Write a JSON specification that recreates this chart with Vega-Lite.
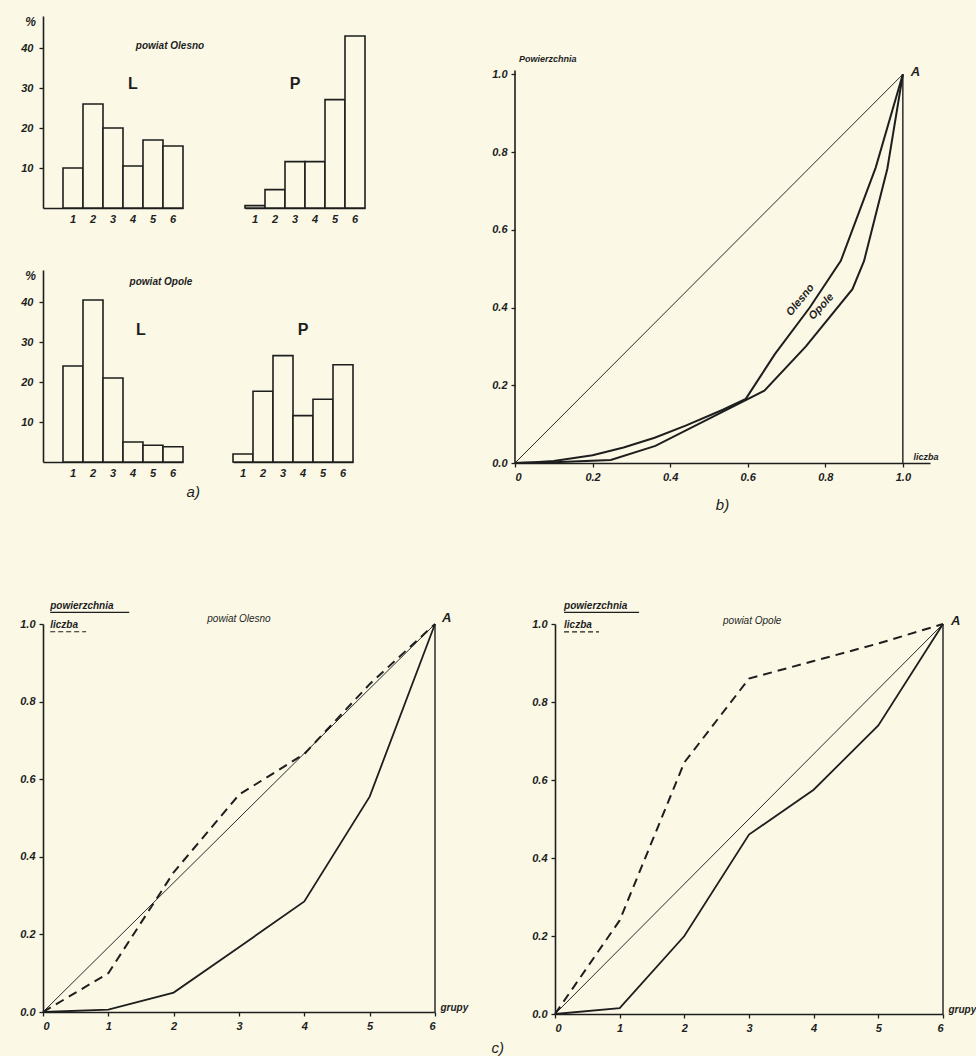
{
  "$schema": "https://vega.github.io/schema/vega-lite/v6.json",
  "padding": {"left": 19, "top": 15, "right": 0, "bottom": 0},
  "background": "#fbf9e6",
  "datasets": {
    "hist": [
      {"powiat": "Olesno", "typ": "L", "grupa": 1, "procent": 10},
      {"powiat": "Olesno", "typ": "L", "grupa": 2, "procent": 26},
      {"powiat": "Olesno", "typ": "L", "grupa": 3, "procent": 20},
      {"powiat": "Olesno", "typ": "L", "grupa": 4, "procent": 10.5},
      {"powiat": "Olesno", "typ": "L", "grupa": 5, "procent": 17},
      {"powiat": "Olesno", "typ": "L", "grupa": 6, "procent": 15.5},
      {"powiat": "Olesno", "typ": "P", "grupa": 1, "procent": 0.6},
      {"powiat": "Olesno", "typ": "P", "grupa": 2, "procent": 4.6},
      {"powiat": "Olesno", "typ": "P", "grupa": 3, "procent": 11.6},
      {"powiat": "Olesno", "typ": "P", "grupa": 4, "procent": 11.6},
      {"powiat": "Olesno", "typ": "P", "grupa": 5, "procent": 27.1},
      {"powiat": "Olesno", "typ": "P", "grupa": 6, "procent": 43},
      {"powiat": "Opole", "typ": "L", "grupa": 1, "procent": 24},
      {"powiat": "Opole", "typ": "L", "grupa": 2, "procent": 40.5},
      {"powiat": "Opole", "typ": "L", "grupa": 3, "procent": 21},
      {"powiat": "Opole", "typ": "L", "grupa": 4, "procent": 5},
      {"powiat": "Opole", "typ": "L", "grupa": 5, "procent": 4.2},
      {"powiat": "Opole", "typ": "L", "grupa": 6, "procent": 3.8},
      {"powiat": "Opole", "typ": "P", "grupa": 1, "procent": 2},
      {"powiat": "Opole", "typ": "P", "grupa": 2, "procent": 17.7},
      {"powiat": "Opole", "typ": "P", "grupa": 3, "procent": 26.6},
      {"powiat": "Opole", "typ": "P", "grupa": 4, "procent": 11.6},
      {"powiat": "Opole", "typ": "P", "grupa": 5, "procent": 15.7},
      {"powiat": "Opole", "typ": "P", "grupa": 6, "procent": 24.3}
    ],
    "lorenz": [
      {"powiat": "Olesno", "liczba": 0, "powierzchnia": 0},
      {"powiat": "Olesno", "liczba": 0.05, "powierzchnia": 0.002},
      {"powiat": "Olesno", "liczba": 0.1, "powierzchnia": 0.005},
      {"powiat": "Olesno", "liczba": 0.2, "powierzchnia": 0.02},
      {"powiat": "Olesno", "liczba": 0.28, "powierzchnia": 0.04},
      {"powiat": "Olesno", "liczba": 0.36, "powierzchnia": 0.065},
      {"powiat": "Olesno", "liczba": 0.44, "powierzchnia": 0.096},
      {"powiat": "Olesno", "liczba": 0.536, "powierzchnia": 0.137},
      {"powiat": "Olesno", "liczba": 0.595, "powierzchnia": 0.165},
      {"powiat": "Olesno", "liczba": 0.67, "powierzchnia": 0.28},
      {"powiat": "Olesno", "liczba": 0.76, "powierzchnia": 0.4},
      {"powiat": "Olesno", "liczba": 0.84, "powierzchnia": 0.52},
      {"powiat": "Olesno", "liczba": 0.93, "powierzchnia": 0.76},
      {"powiat": "Olesno", "liczba": 1, "powierzchnia": 1},
      {"powiat": "Opole", "liczba": 0, "powierzchnia": 0},
      {"powiat": "Opole", "liczba": 0.1, "powierzchnia": 0.002},
      {"powiat": "Opole", "liczba": 0.247, "powierzchnia": 0.008},
      {"powiat": "Opole", "liczba": 0.362, "powierzchnia": 0.044},
      {"powiat": "Opole", "liczba": 0.643, "powierzchnia": 0.186},
      {"powiat": "Opole", "liczba": 0.75, "powierzchnia": 0.3},
      {"powiat": "Opole", "liczba": 0.87, "powierzchnia": 0.447},
      {"powiat": "Opole", "liczba": 0.9, "powierzchnia": 0.52},
      {"powiat": "Opole", "liczba": 0.96, "powierzchnia": 0.757},
      {"powiat": "Opole", "liczba": 1, "powierzchnia": 1}
    ],
    "cum": [
      {"powiat": "Olesno", "grupa": 0, "liczba": 0, "powierzchnia": 0},
      {"powiat": "Olesno", "grupa": 1, "liczba": 0.1, "powierzchnia": 0.006},
      {"powiat": "Olesno", "grupa": 2, "liczba": 0.36, "powierzchnia": 0.05},
      {"powiat": "Olesno", "grupa": 3, "liczba": 0.56, "powierzchnia": 0.167},
      {"powiat": "Olesno", "grupa": 4, "liczba": 0.665, "powierzchnia": 0.285},
      {"powiat": "Olesno", "grupa": 5, "liczba": 0.845, "powierzchnia": 0.555},
      {"powiat": "Olesno", "grupa": 6, "liczba": 1, "powierzchnia": 1},
      {"powiat": "Opole", "grupa": 0, "liczba": 0, "powierzchnia": 0},
      {"powiat": "Opole", "grupa": 1, "liczba": 0.24, "powierzchnia": 0.015},
      {"powiat": "Opole", "grupa": 2, "liczba": 0.645, "powierzchnia": 0.2},
      {"powiat": "Opole", "grupa": 3, "liczba": 0.86, "powierzchnia": 0.46},
      {"powiat": "Opole", "grupa": 4, "liczba": 0.905, "powierzchnia": 0.575},
      {"powiat": "Opole", "grupa": 5, "liczba": 0.95, "powierzchnia": 0.74},
      {"powiat": "Opole", "grupa": 6, "liczba": 1, "powierzchnia": 1}
    ],
    "linia_b": [{"x": 0, "y": 0}, {"x": 1, "y": 1}],
    "linia_c": [{"x": 0, "y": 0}, {"x": 6, "y": 1}]
  },
  "spacing": 87,
  "vconcat": [
    {
      "spacing": 125,
      "hconcat": [
        {
          "spacing": 45,
          "title": {"text": "a)", "orient": "bottom", "offset": 7, "anchor": "middle"},
          "vconcat": [
            {
              "spacing": 38,
              "hconcat": [
                {
                  "width": 140, "height": 192,
                  "layer": [
                    {
                      "data": {"name": "hist"},
                      "transform": [{"filter": "datum.powiat === 'Olesno' && datum.typ === 'L'"}],
                      "mark": {"type": "bar", "fill": "#fbf9e6", "stroke": "#1e1e1e", "strokeWidth": 1.6},
                      "encoding": {
                        "x": {"field": "grupa", "type": "ordinal", "scale": {"paddingInner": 0, "paddingOuter": 0.5, "align": 1}, "axis": {"title": null, "ticks": false, "labelAngle": 0, "labelPadding": 5}},
                        "y": {"field": "procent", "type": "quantitative", "scale": {"domain": [0, 48], "nice": false}, "axis": {"values": [10, 20, 30, 40], "title": "%", "titleAngle": 0, "titleX": -13, "titleY": 5, "titleAlign": "center", "titleBaseline": "middle", "titleFontSize": 12, "labelPadding": 6}}
                      }
                    },
                    {
                      "data": {"values": [{}]},
                      "mark": {"type": "text", "fontSize": 10, "dx": -3},
                      "encoding": {"x": {"datum": 6, "type": "ordinal"}, "y": {"datum": 40.5, "type": "quantitative"}, "text": {"value": "powiat  Olesno"}}
                    },
                    {
                      "data": {"values": [{}]},
                      "mark": {"type": "text", "fontSize": 16, "fontStyle": "normal"},
                      "encoding": {"x": {"datum": 4, "type": "ordinal"}, "y": {"datum": 31, "type": "quantitative"}, "text": {"value": "L"}}
                    }
                  ]
                },
                {
                  "width": 120, "height": 192,
                  "layer": [
                    {
                      "data": {"name": "hist"},
                      "transform": [{"filter": "datum.powiat === 'Olesno' && datum.typ === 'P'"}],
                      "mark": {"type": "bar", "fill": "#fbf9e6", "stroke": "#1e1e1e", "strokeWidth": 1.6},
                      "encoding": {
                        "x": {"field": "grupa", "type": "ordinal", "scale": {"paddingInner": 0, "paddingOuter": 0}, "axis": {"title": null, "ticks": false, "labelAngle": 0, "labelPadding": 5}},
                        "y": {"field": "procent", "type": "quantitative", "scale": {"domain": [0, 48], "nice": false}, "axis": null}
                      }
                    },
                    {
                      "data": {"values": [{}]},
                      "mark": {"type": "text", "fontSize": 16, "fontStyle": "normal"},
                      "encoding": {"x": {"datum": 3, "type": "ordinal"}, "y": {"datum": 31, "type": "quantitative"}, "text": {"value": "P"}}
                    }
                  ]
                }
              ]
            },
            {
              "spacing": 38,
              "hconcat": [
                {
                  "width": 140, "height": 192,
                  "layer": [
                    {
                      "data": {"name": "hist"},
                      "transform": [{"filter": "datum.powiat === 'Opole' && datum.typ === 'L'"}],
                      "mark": {"type": "bar", "fill": "#fbf9e6", "stroke": "#1e1e1e", "strokeWidth": 1.6},
                      "encoding": {
                        "x": {"field": "grupa", "type": "ordinal", "scale": {"paddingInner": 0, "paddingOuter": 0.5, "align": 1}, "axis": {"title": null, "ticks": false, "labelAngle": 0, "labelPadding": 5}},
                        "y": {"field": "procent", "type": "quantitative", "scale": {"domain": [0, 48], "nice": false}, "axis": {"values": [10, 20, 30, 40], "title": "%", "titleAngle": 0, "titleX": -13, "titleY": 5, "titleAlign": "center", "titleBaseline": "middle", "titleFontSize": 12, "labelPadding": 6}}
                      }
                    },
                    {
                      "data": {"values": [{}]},
                      "mark": {"type": "text", "fontSize": 10, "dx": 8},
                      "encoding": {"x": {"datum": 5, "type": "ordinal"}, "y": {"datum": 45, "type": "quantitative"}, "text": {"value": "powiat  Opole"}}
                    },
                    {
                      "data": {"values": [{}]},
                      "mark": {"type": "text", "fontSize": 16, "fontStyle": "normal", "dx": 8},
                      "encoding": {"x": {"datum": 4, "type": "ordinal"}, "y": {"datum": 33, "type": "quantitative"}, "text": {"value": "L"}}
                    }
                  ]
                },
                {
                  "width": 120, "height": 192,
                  "layer": [
                    {
                      "data": {"name": "hist"},
                      "transform": [{"filter": "datum.powiat === 'Opole' && datum.typ === 'P'"}],
                      "mark": {"type": "bar", "fill": "#fbf9e6", "stroke": "#1e1e1e", "strokeWidth": 1.6},
                      "encoding": {
                        "x": {"field": "grupa", "type": "ordinal", "scale": {"paddingInner": 0, "paddingOuter": 0}, "axis": {"title": null, "ticks": false, "labelAngle": 0, "labelPadding": 5}},
                        "y": {"field": "procent", "type": "quantitative", "scale": {"domain": [0, 48], "nice": false}, "axis": null}
                      }
                    },
                    {
                      "data": {"values": [{}]},
                      "mark": {"type": "text", "fontSize": 16, "fontStyle": "normal"},
                      "encoding": {"x": {"datum": 4, "type": "ordinal"}, "y": {"datum": 33, "type": "quantitative"}, "text": {"value": "P"}}
                    }
                  ]
                }
              ]
            }
          ]
        },
        {
          "width": 415, "height": 447,
          "title": {"text": "b)", "orient": "bottom", "offset": 16, "anchor": "middle"},
          "layer": [
            {
              "data": {"name": "linia_b"},
              "mark": {"type": "line", "stroke": "#2a2a2a", "strokeWidth": 1},
              "encoding": {
                "x": {"field": "x", "type": "quantitative", "scale": {"domain": [0, 1.07], "nice": false}, "axis": {"values": [0, 0.2, 0.4, 0.6, 0.8, 1], "labelExpr": "datum.value == 0 ? '0' : format(datum.value, '.1f')", "title": "liczba", "titleAngle": 0, "titleX": 398, "titleY": -4, "titleAlign": "left", "titleBaseline": "alphabetic", "titleFontSize": 9, "labelPadding": 4}},
                "y": {"field": "y", "type": "quantitative", "scale": {"domain": [0, 1.15], "nice": false}, "axis": {"values": [0, 0.2, 0.4, 0.6, 0.8, 1], "format": ".1f", "domain": false, "title": null, "labelPadding": 4}}
              }
            },
            {
              "data": {"name": "lorenz"},
              "mark": {"type": "line", "stroke": "#1e1e1e", "strokeWidth": 2},
              "encoding": {
                "x": {"field": "liczba", "type": "quantitative"},
                "y": {"field": "powierzchnia", "type": "quantitative"},
                "detail": {"field": "powiat"}
              }
            },
            {
              "data": {"values": [{}]},
              "mark": {"type": "rule", "stroke": "#1e1e1e", "strokeWidth": 1.6},
              "encoding": {"x": {"datum": 0}, "y": {"datum": 0}, "y2": {"datum": 1.01}}
            },
            {
              "data": {"values": [{}]},
              "mark": {"type": "rule", "stroke": "#1e1e1e", "strokeWidth": 1.4},
              "encoding": {"x": {"datum": 1}, "y": {"datum": 0}, "y2": {"datum": 1}}
            },
            {
              "data": {"values": [{}]},
              "mark": {"type": "text", "fontSize": 9, "align": "left"},
              "encoding": {"x": {"datum": 0.01}, "y": {"datum": 1.04}, "text": {"value": "Powierzchnia"}}
            },
            {
              "data": {"values": [{}]},
              "mark": {"type": "text", "fontSize": 13, "align": "left", "dx": 8, "dy": -2},
              "encoding": {"x": {"datum": 1}, "y": {"datum": 1}, "text": {"value": "A"}}
            },
            {
              "data": {"values": [{}]},
              "mark": {"type": "text", "fontSize": 11, "angle": 309},
              "encoding": {"x": {"datum": 0.736}, "y": {"datum": 0.419}, "text": {"value": "Olesno"}}
            },
            {
              "data": {"values": [{}]},
              "mark": {"type": "text", "fontSize": 11, "angle": 313},
              "encoding": {"x": {"datum": 0.79}, "y": {"datum": 0.402}, "text": {"value": "Opole"}}
            }
          ]
        }
      ]
    },
    {
      "spacing": 63,
      "title": {"text": "c)", "orient": "bottom", "offset": 8, "anchor": "middle"},
      "hconcat": [
        {
          "width": 392, "height": 388,
          "layer": [
            {
              "data": {"name": "linia_c"},
              "mark": {"type": "line", "stroke": "#2a2a2a", "strokeWidth": 1},
              "encoding": {
                "x": {"field": "x", "type": "quantitative", "scale": {"domain": [0, 6], "nice": false}, "axis": {"values": [0, 1, 2, 3, 4, 5, 6], "format": "d", "title": "grupy", "titleAngle": 0, "titleX": 397, "titleY": -2, "titleAlign": "left", "titleBaseline": "alphabetic", "titleFontSize": 10, "labelPadding": 4}},
                "y": {"field": "y", "type": "quantitative", "scale": {"domain": [0, 1], "nice": false}, "axis": {"values": [0, 0.2, 0.4, 0.6, 0.8, 1], "format": ".1f", "title": null, "labelPadding": 4}}
              }
            },
            {
              "data": {"name": "cum"},
              "transform": [{"filter": "datum.powiat === 'Olesno'"}],
              "mark": {"type": "line", "stroke": "#1e1e1e", "strokeWidth": 1.8},
              "encoding": {"x": {"field": "grupa", "type": "quantitative"}, "y": {"field": "powierzchnia", "type": "quantitative"}}
            },
            {
              "data": {"name": "cum"},
              "transform": [{"filter": "datum.powiat === 'Olesno'"}],
              "mark": {"type": "line", "stroke": "#1e1e1e", "strokeWidth": 2, "strokeDash": [9, 6]},
              "encoding": {"x": {"field": "grupa", "type": "quantitative"}, "y": {"field": "liczba", "type": "quantitative"}}
            },
            {
              "data": {"values": [{}]},
              "mark": {"type": "rule", "stroke": "#1e1e1e", "strokeWidth": 1.4},
              "encoding": {"x": {"datum": 6}, "y": {"datum": 0}, "y2": {"datum": 1}}
            },
            {
              "data": {"values": [{}]},
              "mark": {"type": "text", "fontSize": 10, "align": "left", "baseline": "alphabetic"},
              "encoding": {"x": {"datum": 0.11}, "y": {"datum": 1.039}, "text": {"value": "powierzchnia"}}
            },
            {
              "data": {"values": [{}]},
              "mark": {"type": "rule", "stroke": "#1e1e1e", "strokeWidth": 1.2},
              "encoding": {"x": {"datum": 0.11}, "x2": {"datum": 1.32}, "y": {"datum": 1.03}}
            },
            {
              "data": {"values": [{}]},
              "mark": {"type": "text", "fontSize": 10, "align": "left", "baseline": "alphabetic"},
              "encoding": {"x": {"datum": 0.11}, "y": {"datum": 0.99}, "text": {"value": "liczba"}}
            },
            {
              "data": {"values": [{}]},
              "mark": {"type": "rule", "stroke": "#1e1e1e", "strokeWidth": 1.2, "strokeDash": [5, 3]},
              "encoding": {"x": {"datum": 0.11}, "x2": {"datum": 0.66}, "y": {"datum": 0.98}}
            },
            {
              "data": {"values": [{}]},
              "mark": {"type": "text", "fontSize": 10, "fontWeight": "normal"},
              "encoding": {"x": {"datum": 3}, "y": {"datum": 1.013}, "text": {"value": "powiat  Olesno"}}
            },
            {
              "data": {"values": [{}]},
              "mark": {"type": "text", "fontSize": 13, "align": "left", "dx": 7, "dy": -6},
              "encoding": {"x": {"datum": 6}, "y": {"datum": 1}, "text": {"value": "A"}}
            }
          ]
        },
        {
          "width": 388, "height": 390,
          "layer": [
            {
              "data": {"name": "linia_c"},
              "mark": {"type": "line", "stroke": "#2a2a2a", "strokeWidth": 1},
              "encoding": {
                "x": {"field": "x", "type": "quantitative", "scale": {"domain": [0, 6], "nice": false}, "axis": {"values": [0, 1, 2, 3, 4, 5, 6], "format": "d", "title": "grupy", "titleAngle": 0, "titleX": 393, "titleY": -2, "titleAlign": "left", "titleBaseline": "alphabetic", "titleFontSize": 10, "labelPadding": 4}},
                "y": {"field": "y", "type": "quantitative", "scale": {"domain": [0, 1], "nice": false}, "axis": {"values": [0, 0.2, 0.4, 0.6, 0.8, 1], "format": ".1f", "title": null, "labelPadding": 4}}
              }
            },
            {
              "data": {"name": "cum"},
              "transform": [{"filter": "datum.powiat === 'Opole'"}],
              "mark": {"type": "line", "stroke": "#1e1e1e", "strokeWidth": 1.8},
              "encoding": {"x": {"field": "grupa", "type": "quantitative"}, "y": {"field": "powierzchnia", "type": "quantitative"}}
            },
            {
              "data": {"name": "cum"},
              "transform": [{"filter": "datum.powiat === 'Opole'"}],
              "mark": {"type": "line", "stroke": "#1e1e1e", "strokeWidth": 2, "strokeDash": [9, 6]},
              "encoding": {"x": {"field": "grupa", "type": "quantitative"}, "y": {"field": "liczba", "type": "quantitative"}}
            },
            {
              "data": {"values": [{}]},
              "mark": {"type": "rule", "stroke": "#1e1e1e", "strokeWidth": 1.4},
              "encoding": {"x": {"datum": 6}, "y": {"datum": 0}, "y2": {"datum": 1}}
            },
            {
              "data": {"values": [{}]},
              "mark": {"type": "text", "fontSize": 10, "align": "left", "baseline": "alphabetic"},
              "encoding": {"x": {"datum": 0.14}, "y": {"datum": 1.039}, "text": {"value": "powierzchnia"}}
            },
            {
              "data": {"values": [{}]},
              "mark": {"type": "rule", "stroke": "#1e1e1e", "strokeWidth": 1.2},
              "encoding": {"x": {"datum": 0.14}, "x2": {"datum": 1.3}, "y": {"datum": 1.03}}
            },
            {
              "data": {"values": [{}]},
              "mark": {"type": "text", "fontSize": 10, "align": "left", "baseline": "alphabetic"},
              "encoding": {"x": {"datum": 0.14}, "y": {"datum": 0.99}, "text": {"value": "liczba"}}
            },
            {
              "data": {"values": [{}]},
              "mark": {"type": "rule", "stroke": "#1e1e1e", "strokeWidth": 1.2, "strokeDash": [5, 3]},
              "encoding": {"x": {"datum": 0.14}, "x2": {"datum": 0.68}, "y": {"datum": 0.98}}
            },
            {
              "data": {"values": [{}]},
              "mark": {"type": "text", "fontSize": 10, "fontWeight": "normal"},
              "encoding": {"x": {"datum": 3.05}, "y": {"datum": 1.008}, "text": {"value": "powiat  Opole"}}
            },
            {
              "data": {"values": [{}]},
              "mark": {"type": "text", "fontSize": 13, "align": "left", "dx": 8, "dy": -3},
              "encoding": {"x": {"datum": 6}, "y": {"datum": 1}, "text": {"value": "A"}}
            }
          ]
        }
      ]
    }
  ],
  "config": {
    "view": {"stroke": null},
    "font": "Liberation Sans",
    "axis": {
      "grid": false,
      "domainColor": "#1e1e1e", "domainWidth": 1.6,
      "tickColor": "#1e1e1e", "tickWidth": 1.3, "tickSize": 4,
      "labelColor": "#1e1e1e", "labelFont": "Liberation Sans", "labelFontStyle": "italic", "labelFontWeight": "bold", "labelFontSize": 11,
      "titleColor": "#1e1e1e", "titleFont": "Liberation Sans", "titleFontStyle": "italic", "titleFontWeight": "bold"
    },
    "title": {"font": "Liberation Sans", "fontStyle": "italic", "fontWeight": "normal", "color": "#1e1e1e", "fontSize": 15},
    "text": {"font": "Liberation Sans", "fontStyle": "italic", "fontWeight": "bold", "color": "#1e1e1e"}
  }
}
